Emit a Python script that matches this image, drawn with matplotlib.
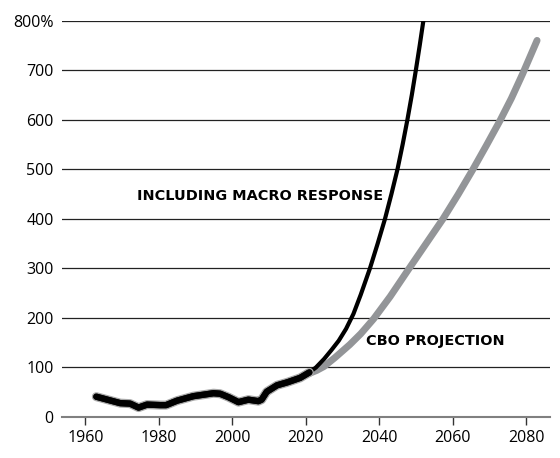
import matplotlib
matplotlib.use("Agg")
import matplotlib.pyplot as plt
import matplotlib.patheffects as pe

plt.rcParams['font.family'] = ['Open Sans', 'DejaVu Sans']

# historical debt, percent of GDP
hist_years = [1963, 1966, 1969.5, 1972.2, 1974.5, 1976.8, 1980.4, 1982, 1985, 1989.4,
              1994.9, 1996.7, 1999, 2001.7, 2004.4, 2007.1, 2008, 2009.4, 2012.2,
              2015, 2018.5, 2021]
hist_vals = [41, 35, 28, 27, 19, 25, 24, 24, 33, 42, 48, 47, 40, 30, 35, 32, 35, 51, 64,
             70, 79, 90]

# projection including macro response
macro_years = [2021, 2022.8, 2025, 2027, 2029, 2031, 2033, 2035, 2037.5, 2039.6, 2041.6,
               2043.35, 2045, 2046.4, 2047.7, 2048.9, 2050, 2051.05, 2052.05]
macro_vals = [90, 100, 117, 135, 154, 178, 208, 247, 300, 350, 400, 450, 500, 550, 600,
              650, 700, 750, 800]

# CBO projection
cbo_years = [2021, 2023, 2025, 2028, 2032, 2035, 2038.5, 2043, 2048, 2052.7, 2057.4,
             2061.5, 2065.4, 2069.2, 2072.9, 2076, 2079.1, 2083]
cbo_vals = [88, 94, 102, 120, 146, 168, 198, 243, 298, 349, 400, 449, 498, 548, 598,
            643, 693, 760]

y_ticks = [0, 100, 200, 300, 400, 500, 600, 700, 800]
y_labels = ['0', '100', '200', '300', '400', '500', '600', '700', '800%']
x_ticks = [1960, 1980, 2000, 2020, 2040, 2060, 2080]

fig = plt.figure(figsize=(5.6, 4.58), dpi=100)
ax = fig.add_axes([0.111, 0.0895, 0.871, 0.8655])

for y in y_ticks[1:]:
    ax.axhline(y, color='#222222', lw=0.9, zorder=1)

ax.plot(cbo_years, cbo_vals, color='#939598', lw=5, solid_capstyle='round',
        solid_joinstyle='round', zorder=3)
ax.plot(macro_years, macro_vals, color='black', lw=3, solid_joinstyle='round', zorder=4)
ax.plot(hist_years, hist_vals, color='black', lw=4.5, solid_capstyle='round',
        solid_joinstyle='round', zorder=5,
        path_effects=[pe.withStroke(linewidth=6.5, foreground='#a8a8a8'), pe.Normal()])

ax.text(2041, 446, 'INCLUDING MACRO RESPONSE', ha='right', va='center',
        fontsize=10.4, fontweight='bold', family='DejaVu Sans', zorder=6)
ax.text(2036.5, 153, 'CBO PROJECTION', ha='left', va='center',
        fontsize=10.4, fontweight='bold', family='DejaVu Sans', zorder=6)

ax.set_xlim(1953.7, 2086.5)
ax.set_ylim(0, 800)
ax.set_yticks(y_ticks)
ax.set_yticklabels(y_labels)
ax.set_xticks(x_ticks)

for s in ['top', 'right', 'left']:
    ax.spines[s].set_visible(False)
ax.spines['bottom'].set_color('#808080')
ax.spines['bottom'].set_linewidth(1.5)

ax.tick_params(axis='y', length=0, pad=6, labelsize=11.5)
ax.tick_params(axis='x', length=6, width=1, color='#333333', direction='out',
               pad=3, labelsize=11.5)

fig.savefig('out.png', dpi=100)
